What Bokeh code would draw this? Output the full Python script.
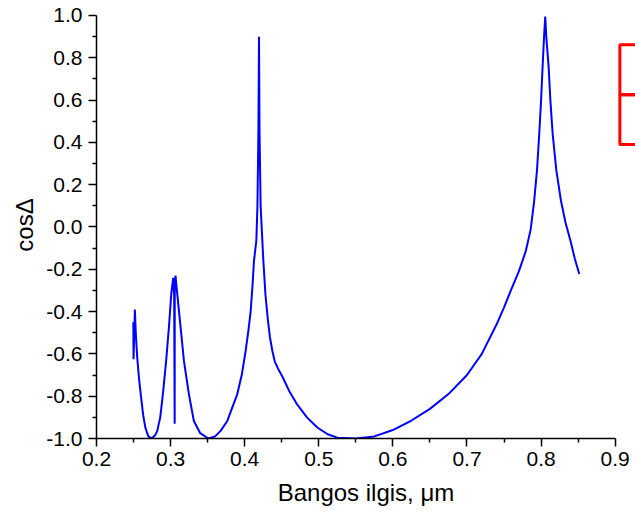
from bokeh.plotting import figure
from bokeh.models import Range1d, BoxAnnotation, FixedTicker
from bokeh.embed import file_html
from bokeh.resources import INLINE

# wavelength (um) and cos(Delta)
wavelength = [0.2497, 0.2500, 0.2518, 0.2530, 0.2550, 0.2575, 0.2600, 0.2630, 0.2660, 0.2700, 0.2745,
              0.2790, 0.2820, 0.2860, 0.2896, 0.2940, 0.2977, 0.3009, 0.3025, 0.3036, 0.3048, 0.3055,
              0.3056, 0.3066, 0.3090, 0.3135, 0.3180, 0.3247, 0.3314, 0.3400, 0.3510,
              0.3600, 0.3675, 0.3765, 0.3900, 0.3960, 0.4013, 0.4050, 0.4080, 0.4105, 0.4125, 0.4157,
              0.4172, 0.4185, 0.4193, 0.4200, 0.4215, 0.4238, 0.4252, 0.4280, 0.4310, 0.4340,
              0.4373, 0.4405, 0.4450, 0.4508, 0.4600, 0.4710, 0.4840, 0.4980, 0.5120, 0.5250, 0.5500,
              0.5750, 0.6000, 0.6250, 0.6500, 0.6750, 0.7000, 0.7200, 0.7400, 0.7500, 0.7592,
              0.7700, 0.7795, 0.7860, 0.7907, 0.7945, 0.7975, 0.8000, 0.8020, 0.8040, 0.8056,
              0.8070, 0.8102, 0.8125, 0.8156, 0.8205, 0.8268, 0.8330, 0.8400, 0.8455, 0.8515]
cos_delta = [-0.45, -0.625, -0.39, -0.50, -0.62, -0.72, -0.80, -0.89, -0.95, -0.99, -1.00,
             -0.985, -0.964, -0.90, -0.79, -0.633, -0.475, -0.317, -0.27, -0.24, -0.32, -0.93,
             -0.30, -0.23, -0.317, -0.475, -0.633, -0.79, -0.917, -0.975, -1.00,
             -0.99, -0.964, -0.917, -0.79, -0.70, -0.585, -0.49, -0.40, -0.28, -0.16, -0.065,
             0.10, 0.45, 0.90, 0.45, 0.10, -0.065, -0.16, -0.32, -0.43, -0.52,
             -0.585, -0.635, -0.67, -0.707, -0.775, -0.84, -0.90, -0.948, -0.98, -0.996, -1.00,
             -0.99, -0.96, -0.915, -0.86, -0.79, -0.70, -0.60, -0.46, -0.38, -0.30,
             -0.21, -0.112, -0.01, 0.124, 0.27, 0.44, 0.60, 0.755, 0.90, 0.995,
             0.90, 0.755, 0.60, 0.44, 0.27, 0.124, 0.02, -0.07, -0.15, -0.222]

x_ticks = [0.2, 0.3, 0.4, 0.5, 0.6, 0.7, 0.8, 0.9]
y_ticks = [-1.0, -0.8, -0.6, -0.4, -0.2, 0.0, 0.2, 0.4, 0.6, 0.8, 1.0]
x_minor = [round((a + b) / 2, 3) for a, b in zip(x_ticks[:-1], x_ticks[1:])]
y_minor = [round((a + b) / 2, 3) for a, b in zip(y_ticks[:-1], y_ticks[1:])]

# legend frame (partly outside the window on the right), in data units
legend_left, legend_right = 0.9063, 1.0
legend_top, legend_mid, legend_bottom = 0.8615, 0.625, 0.39

FONT = "Liberation Sans"

p = figure(width=635, height=521, output_backend="svg", toolbar_location=None,
           x_range=Range1d(0.2, 0.9274), y_range=Range1d(-1.0, 1.0189),
           min_border_left=96, min_border_right=0, min_border_top=11, min_border_bottom=83)
p.outline_line_color = None
p.grid.visible = False
p.background_fill_color = "white"
p.border_fill_color = "white"

p.line(wavelength, cos_delta, line_color="#0000FF", line_width=2)

for ax in (p.xaxis[0], p.yaxis[0]):
    ax.axis_line_width = 1.5
    ax.major_tick_line_width = 1.5
    ax.minor_tick_line_width = 1.5
    ax.major_tick_in = 0
    ax.major_tick_out = 8
    ax.minor_tick_in = 0
    ax.minor_tick_out = 4
    ax.major_label_text_font = FONT
    ax.major_label_text_font_size = "21px"
    ax.major_label_text_color = "black"
    ax.axis_label_text_font = FONT
    ax.axis_label_text_font_size = "24px"
    ax.axis_label_text_font_style = "normal"
    ax.axis_label_text_color = "black"

p.xaxis.bounds = (0.2, 0.9)
p.yaxis.bounds = (-1.0, 1.0)
p.xaxis.ticker = FixedTicker(ticks=x_ticks, minor_ticks=x_minor)
p.yaxis.ticker = FixedTicker(ticks=y_ticks, minor_ticks=y_minor)
p.xaxis.major_label_overrides = {v: f"{v:.1f}" for v in x_ticks}
p.yaxis.major_label_overrides = {v: f"{v:.1f}" for v in y_ticks}
p.xaxis.major_label_standoff = 5
p.yaxis.major_label_standoff = 6
p.xaxis.axis_label = "Bangos ilgis, \u03bcm"
p.yaxis.axis_label = "cos\u0394"
p.xaxis.axis_label_standoff = 10
p.yaxis.axis_label_standoff = 5

for top, bottom in ((legend_top, legend_mid), (legend_mid, legend_bottom)):
    p.add_layout(BoxAnnotation(left=legend_left, right=legend_right, top=top, bottom=bottom,
                               fill_alpha=0, line_color="#FF0000", line_width=3, line_alpha=1))

open("out.html", "w").write(file_html(p, INLINE))
